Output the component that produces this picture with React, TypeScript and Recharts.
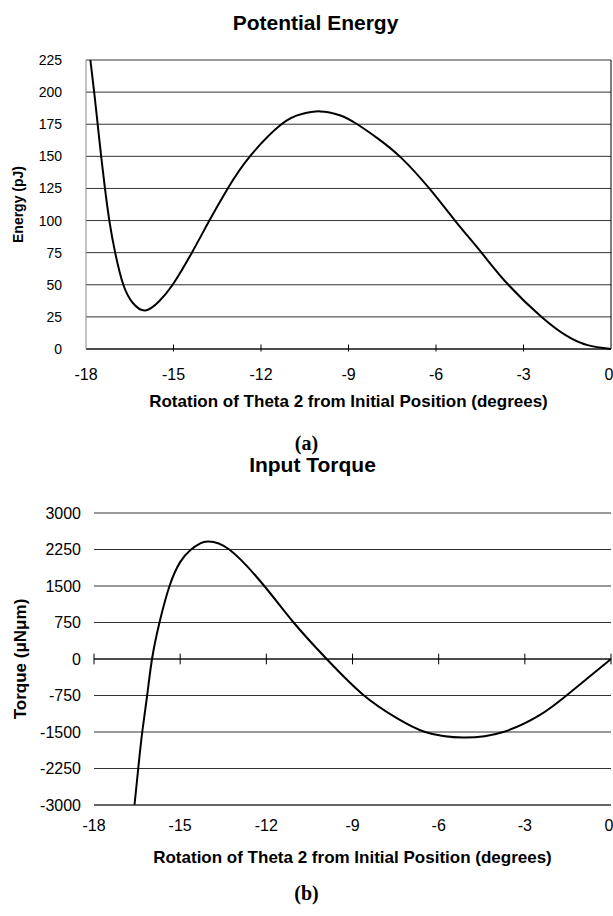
import React from 'react'
import { LineChart, Line, XAxis, YAxis, CartesianGrid, ReferenceLine } from 'recharts'

// rotation of theta 2 (degrees) vs potential energy (pJ)
const energyAngles = [
  -17.85, -17.72, -17.6, -17.48, -17.35, -17.2, -17.0, -16.72, -16.4, -15.97, -15.5, -15.03, -14.37,
  -13.77, -13.14, -12.38, -11.3, -10.6, -9.98, -9.3, -8.7, -8.0, -7.2, -6.23, -5.35, -4.44, -3.52,
  -2.38, -1.5, -0.8, 0,
]
const energyValues = [
  225, 200, 175, 150, 125, 100, 75, 50, 36, 30, 37, 50, 75, 100, 125, 150, 175, 183, 185, 182, 175, 164,
  149, 125, 100, 75, 50, 25, 10, 3, 0,
]

// rotation of theta 2 (degrees) vs input torque (uN um)
const torqueAngles = [
  -16.59, -16.46, -16.32, -16.15, -15.98, -15.72, -15.37, -15.0, -14.62, -14.3, -14.04, -13.29, -12.07,
  -11.05, -9.9, -8.6, -7.5, -6.47, -5.14, -3.75, -2.5, -1.55, 0,
]
const torqueValues = [
  -3000, -2250, -1500, -750, 0, 750, 1500, 1990, 2250, 2375, 2415, 2250, 1500, 750, 0, -750, -1200,
  -1500, -1615, -1500, -1160, -750, 0,
]

const angleTicks = [-18, -15, -12, -9, -6, -3, 0]
const energyTicks = [0, 25, 50, 75, 100, 125, 150, 175, 200, 225]
const torqueTicks = [-3000, -2250, -1500, -750, 0, 750, 1500, 2250, 3000]

const energyData = energyAngles.map((a, i) => ({ angle: a, energy: energyValues[i] }))
const torqueData = torqueAngles.map((a, i) => ({ angle: a, torque: torqueValues[i] }))

const sans = '"Liberation Sans", Arial, sans-serif'
const serif = '"Liberation Serif", "Times New Roman", serif'
const xLabel = 'Rotation of Theta 2 from Initial Position (degrees)'

const caption = (top: number, size: number, family: string, shift = 0): React.CSSProperties => ({
  position: 'absolute',
  left: shift,
  width: 613,
  top,
  textAlign: 'center',
  fontFamily: family,
  fontWeight: 'bold',
  fontSize: size,
  lineHeight: '1',
})

export default function App() {
  return (
    <div style={{ position: 'absolute', left: 0, top: 0, width: 613, height: 916, background: '#fff' }}>
      <div style={caption(12, 21, sans, 9)}>Potential Energy</div>

      <div style={{ position: 'absolute', left: 0, top: 0 }}>
        <LineChart width={613} height={420} data={energyData} margin={{ top: 60, right: 2, left: 0, bottom: 11 }}>
          <CartesianGrid horizontal vertical={false} stroke="#333" />
          <XAxis
            dataKey="angle"
            type="number"
            domain={[-18, 0]}
            ticks={angleTicks}
            tickLine={false}
            tickSize={0}
            tickMargin={20}
            axisLine={{ stroke: '#000' }}
            height={60}
            tick={{ fontSize: 16, fill: '#000', fontFamily: sans }}
            label={{ value: xLabel, position: 'insideBottom', offset: 2, fontSize: 17, fontWeight: 'bold', fill: '#000', fontFamily: sans }}
          />
          <YAxis
            type="number"
            domain={[0, 225]}
            ticks={energyTicks}
            width={86}
            tickLine={false}
            tickSize={0}
            tickMargin={24}
            axisLine={{ stroke: '#888' }}
            tick={{ fontSize: 14, fill: '#000', fontFamily: sans }}
            label={{ value: 'Energy (pJ)', angle: -90, position: 'insideLeft', offset: 18, style: { textAnchor: 'middle' }, fontSize: 14, fontWeight: 'bold', fill: '#000', fontFamily: sans }}
          />
          <ReferenceLine y={225} stroke="#999" />
          <ReferenceLine x={0} stroke="#000" />
          {angleTicks.slice(1, -1).map((t) => (
            <ReferenceLine key={t} segment={[{ x: t, y: -2 }, { x: t, y: 3.5 }]} stroke="#000" ifOverflow="visible" />
          ))}
          <Line type="natural" dataKey="energy" stroke="#000" strokeWidth={2} dot={false} isAnimationActive={false} />
        </LineChart>
      </div>

      <div style={caption(433, 20, serif)}>(a)</div>
      <div style={caption(454, 21, sans, 6)}>Input Torque</div>

      <div style={{ position: 'absolute', left: 0, top: 460 }}>
        <LineChart width={613} height={420} data={torqueData} margin={{ top: 53, right: 2, left: 0, bottom: 15 }}>
          <CartesianGrid horizontal vertical={false} stroke="#333" />
          <XAxis
            dataKey="angle"
            type="number"
            domain={[-18, 0]}
            ticks={angleTicks}
            tickLine={false}
            tickSize={0}
            tickMargin={15}
            axisLine={{ stroke: '#333' }}
            height={60}
            tick={{ fontSize: 16, fill: '#000', fontFamily: sans }}
            label={{ value: xLabel, position: 'insideBottom', offset: 2, fontSize: 17, fontWeight: 'bold', fill: '#000', fontFamily: sans }}
          />
          <YAxis
            type="number"
            domain={[-3000, 3000]}
            ticks={torqueTicks}
            width={94}
            tickLine={false}
            tickSize={0}
            tickMargin={13}
            axisLine={false}
            tick={{ fontSize: 16, fill: '#000', fontFamily: sans }}
            label={{ value: 'Torque (\u03bcN\u03bcm)', angle: -90, position: 'insideLeft', offset: 20, style: { textAnchor: 'middle' }, fontSize: 17, fontWeight: 'bold', fill: '#000', fontFamily: sans }}
          />
          <ReferenceLine y={3000} stroke="#999" />
          <ReferenceLine y={0} stroke="#000" />
          {angleTicks.map((t) => (
            <ReferenceLine key={t} segment={[{ x: t, y: -110 }, { x: t, y: 110 }]} stroke="#000" ifOverflow="visible" />
          ))}
          <Line type="natural" dataKey="torque" stroke="#000" strokeWidth={2} dot={false} isAnimationActive={false} />
        </LineChart>
      </div>

      <div style={caption(883, 20, serif)}>(b)</div>
    </div>
  )
}
